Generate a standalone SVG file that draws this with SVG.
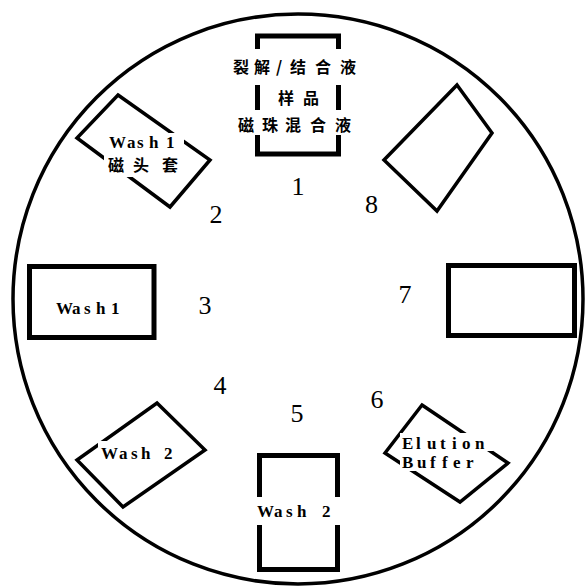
<svg xmlns="http://www.w3.org/2000/svg" width="586" height="588" viewBox="0 0 586 588">
<style>
.wheel{fill:none;stroke:#000;stroke-width:3.5}
.rbox{fill:none;stroke:#000;stroke-width:5}
.dbox{fill:none;stroke:#000;stroke-width:3.5;stroke-linejoin:miter}
.gap{fill:#fff;stroke:none}
.num{font-family:"Liberation Serif",serif;font-size:26px;fill:#000;text-anchor:middle}
.lat{font-family:"Liberation Serif",serif;font-size:17px;font-weight:bold;fill:#000}
.cjk{font-family:"Noto Sans CJK SC",sans-serif;font-size:16px;font-weight:bold;fill:#000}
</style>
<rect width="586" height="588" fill="#fff"/>
<circle class="wheel" cx="298" cy="299" r="285"/>
<g id="connectors"/>
<g id="pos1">
<rect class="rbox" x="257.5" y="36" width="81" height="118"/>
<rect class="gap" x="230" y="49" width="132" height="36"/>
<rect class="gap" x="232" y="110" width="128" height="25"/>
<text class="cjk" x="233 254 276 290 315 340" y="73">裂解/结合液</text>
<text class="cjk" x="278 303" y="104">样品</text>
<text class="cjk" x="238 262 285 310 335" y="131">磁珠混合液</text>
<text class="num" x="298" y="195">1</text>
</g>
<g id="pos2">
<polygon class="dbox" points="118,95 210,160 170,207 77,138"/>
<rect class="gap" x="106" y="133" width="78" height="17"/>
<rect class="gap" x="104" y="155" width="80" height="22"/>
<text class="lat" x="109 127 137 149 160 166" y="148">Wash 1</text>
<text class="cjk" x="108 133 162" y="171">磁头套</text>
<text class="num" x="216" y="223">2</text>
</g>
<g id="pos3">
<rect class="rbox" x="29.5" y="266.5" width="124.5" height="71"/>
<text class="lat" x="56 72 84 96 105 111" y="314">Wash 1</text>
<text class="num" x="205" y="314">3</text>
</g>
<g id="pos4">
<polygon class="dbox" points="157,403 205,450 123,507 77,460"/>
<rect class="gap" x="98" y="441" width="80" height="24"/>
<text class="lat" x="101 119 131 141 155 164" y="459">Wash 2</text>
<text class="num" x="220" y="394">4</text>
</g>
<g id="pos5">
<rect class="rbox" x="259.5" y="455.5" width="78" height="114"/>
<rect class="gap" x="250" y="497" width="96" height="28"/>
<text class="lat" x="257 274 286 297 311 322" y="517">Wash 2</text>
<text class="num" x="297" y="422">5</text>
</g>
<g id="pos6">
<polygon class="dbox" points="422,405 508,463 460,502 385,453"/>
<rect class="gap" x="400" y="433" width="93" height="18"/>
<rect class="gap" x="400" y="453" width="80" height="18"/>
<text class="lat" x="402 416 427 440 452 462 475" y="449">Elution</text>
<text class="lat" x="402 417 430 442 453 466" y="468">Buffer</text>
<text class="num" x="377" y="408">6</text>
</g>
<g id="pos7">
<rect class="rbox" x="448.5" y="265.5" width="126" height="70"/>
<text class="num" x="405" y="303">7</text>
</g>
<g id="pos8">
<polygon class="dbox" points="457,85 492,133 437,211 384,160"/>
<text class="num" x="371.5" y="213">8</text>
</g>
</svg>
